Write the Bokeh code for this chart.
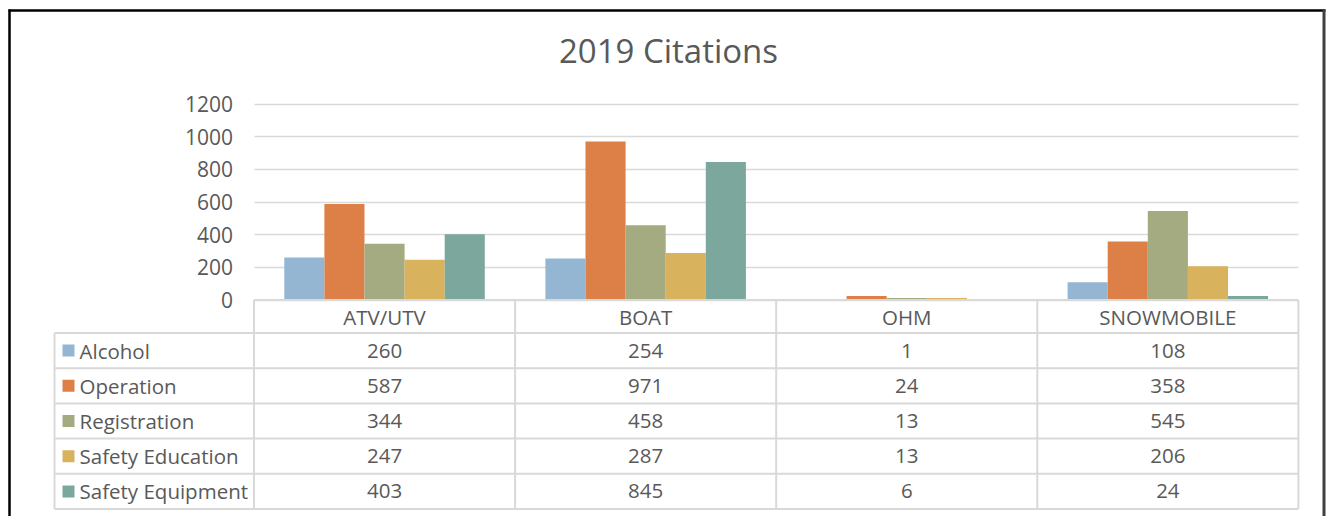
import numpy as np
from bokeh.plotting import figure
from bokeh.models import Range1d, LinearAxis, FixedTicker, Grid, Label
from bokeh.core.properties import value
from bokeh.embed import file_html
from bokeh.resources import INLINE

# ---------------- data ----------------
title = "2019 Citations"
categories = ["ATV/UTV", "BOAT", "OHM", "SNOWMOBILE"]
series = ["Alcohol", "Operation", "Registration", "Safety Education", "Safety Equipment"]
alcohol = [260, 254, 1, 108]
operation = [587, 971, 24, 358]
registration = [344, 458, 13, 545]
safety_education = [247, 287, 13, 206]
safety_equipment = [403, 845, 6, 24]
colors = ["#94B6D2", "#DD8047", "#A5AB81", "#D8B25C", "#7BA79D"]
y_ticks = [0, 200, 400, 600, 800, 1000, 1200]

values = [alcohol, operation, registration, safety_education, safety_equipment]

# ---------------- layout constants ----------------
FONT = "Open Sans"
TXT = "#595959"
GRID = "#D9D9D9"
FS = "20.5px"
W, H = 1326, 516
PAGE = 0
X0 = 253.5          # page x of category-axis start
CW = 261.1          # px per category
Y0 = 299.5          # page y of value 0
K = 196.0 / 1200.0  # px per citation
ROW = 35.2          # px per table row
HDR = 33.0 / ROW    # header row height in row units

def px_to_x(px):
    return (px - X0) / CW

def py_to_y(py):
    return (Y0 - py) / K

def py_to_row(py):
    return (py - Y0) / ROW

x_range = Range1d(px_to_x(PAGE), px_to_x(PAGE + W))
y_range = Range1d(py_to_y(PAGE + H), py_to_y(PAGE))

p = figure(width=W, height=H, x_range=x_range, y_range=y_range,
           output_backend="svg", toolbar_location=None, min_border=0,
           x_axis_type=None, y_axis_type=None, outline_line_color=None,
           background_fill_color="white", border_fill_color="white")
p.extra_y_ranges = {"rows": Range1d(py_to_row(PAGE + H), py_to_row(PAGE))}

ncat = len(categories)

# gridlines
grid = Grid(dimension=1, ticker=FixedTicker(ticks=y_ticks), cross_bounds=(0, ncat),
            grid_line_color=GRID, grid_line_width=1.6)
p.add_layout(grid, "center")

# y axis placed at the left edge of the category area
ax = LinearAxis(fixed_location=0, bounds=(0, 1200), ticker=FixedTicker(ticks=y_ticks),
                axis_line_color=None, major_tick_line_color=None, minor_tick_line_color=None,
                major_tick_out=0, major_tick_in=0, major_label_standoff=21,
                major_label_text_font=FONT, major_label_text_font_size="21px",
                major_label_text_color=TXT)
p.add_layout(ax, "left")

# bars
BW = 40.1 / CW
centers = np.arange(ncat) + 0.5
for i, vals in enumerate(values):
    p.vbar(x=centers + (i - 2) * BW, top=vals, bottom=0, width=BW,
           fill_color=colors[i], line_color=None)

# table lines
bounds = [0.0] + [HDR + i for i in range(len(series) + 1)]
leg_x = px_to_x(54)
xs0, ys0, xs1, ys1 = [], [], [], []
xs0.append(0); ys0.append(bounds[0]); xs1.append(ncat); ys1.append(bounds[0])
for b in bounds[1:]:
    xs0.append(leg_x); ys0.append(b); xs1.append(ncat); ys1.append(b)
for c in range(ncat + 1):
    xs0.append(c); ys0.append(bounds[0]); xs1.append(c); ys1.append(bounds[-1])
xs0.append(leg_x); ys0.append(bounds[1]); xs1.append(leg_x); ys1.append(bounds[-1])
p.segment(x0=xs0, y0=ys0, x1=xs1, y1=ys1, y_range_name="rows",
          line_color=GRID, line_width=2)

# header labels
p.text(x=centers, y=[HDR / 2] * ncat, text=categories, y_range_name="rows",
       text_align="center", text_baseline="middle", text_font=value(FONT),
       text_font_size=FS, text_color=TXT)

# rows
row_centers = [HDR + i + 0.5 for i in range(len(series))]
for i, vals in enumerate(values):
    p.text(x=centers, y=[row_centers[i]] * ncat, text=[str(v) for v in vals],
           y_range_name="rows", text_align="center", text_baseline="middle",
           text_font=value(FONT), text_font_size=FS, text_color=TXT)

# legend keys
p.scatter(x=[px_to_x(68)] * len(series), y=row_centers, marker="square", size=12,
          fill_color=colors, line_color=None, y_range_name="rows")
p.text(x=[px_to_x(79)] * len(series), y=row_centers, text=series, y_range_name="rows",
       text_align="left", text_baseline="middle", text_font=value(FONT),
       text_font_size=FS, text_color=TXT)

# chart border
p.segment(x0=[px_to_x(9)], y0=[py_to_y(9)], x1=[px_to_x(9)], y1=[py_to_y(PAGE + H)],
          line_color="black", line_width=2.5)
p.segment(x0=[px_to_x(8)], y0=[py_to_y(10)], x1=[px_to_x(1325)], y1=[py_to_y(10)],
          line_color="black", line_width=2.5)
p.segment(x0=[px_to_x(1323.5)], y0=[py_to_y(9)], x1=[px_to_x(1323.5)], y1=[py_to_y(PAGE + H)],
          line_color="#404040", line_width=3)

# title
p.add_layout(Label(x=px_to_x(668), y=py_to_y(50), text=title, text_align="center",
                   text_baseline="middle", text_font=FONT, text_font_size="33px",
                   text_color=TXT))

open("out.html", "w").write(file_html(p, INLINE))
